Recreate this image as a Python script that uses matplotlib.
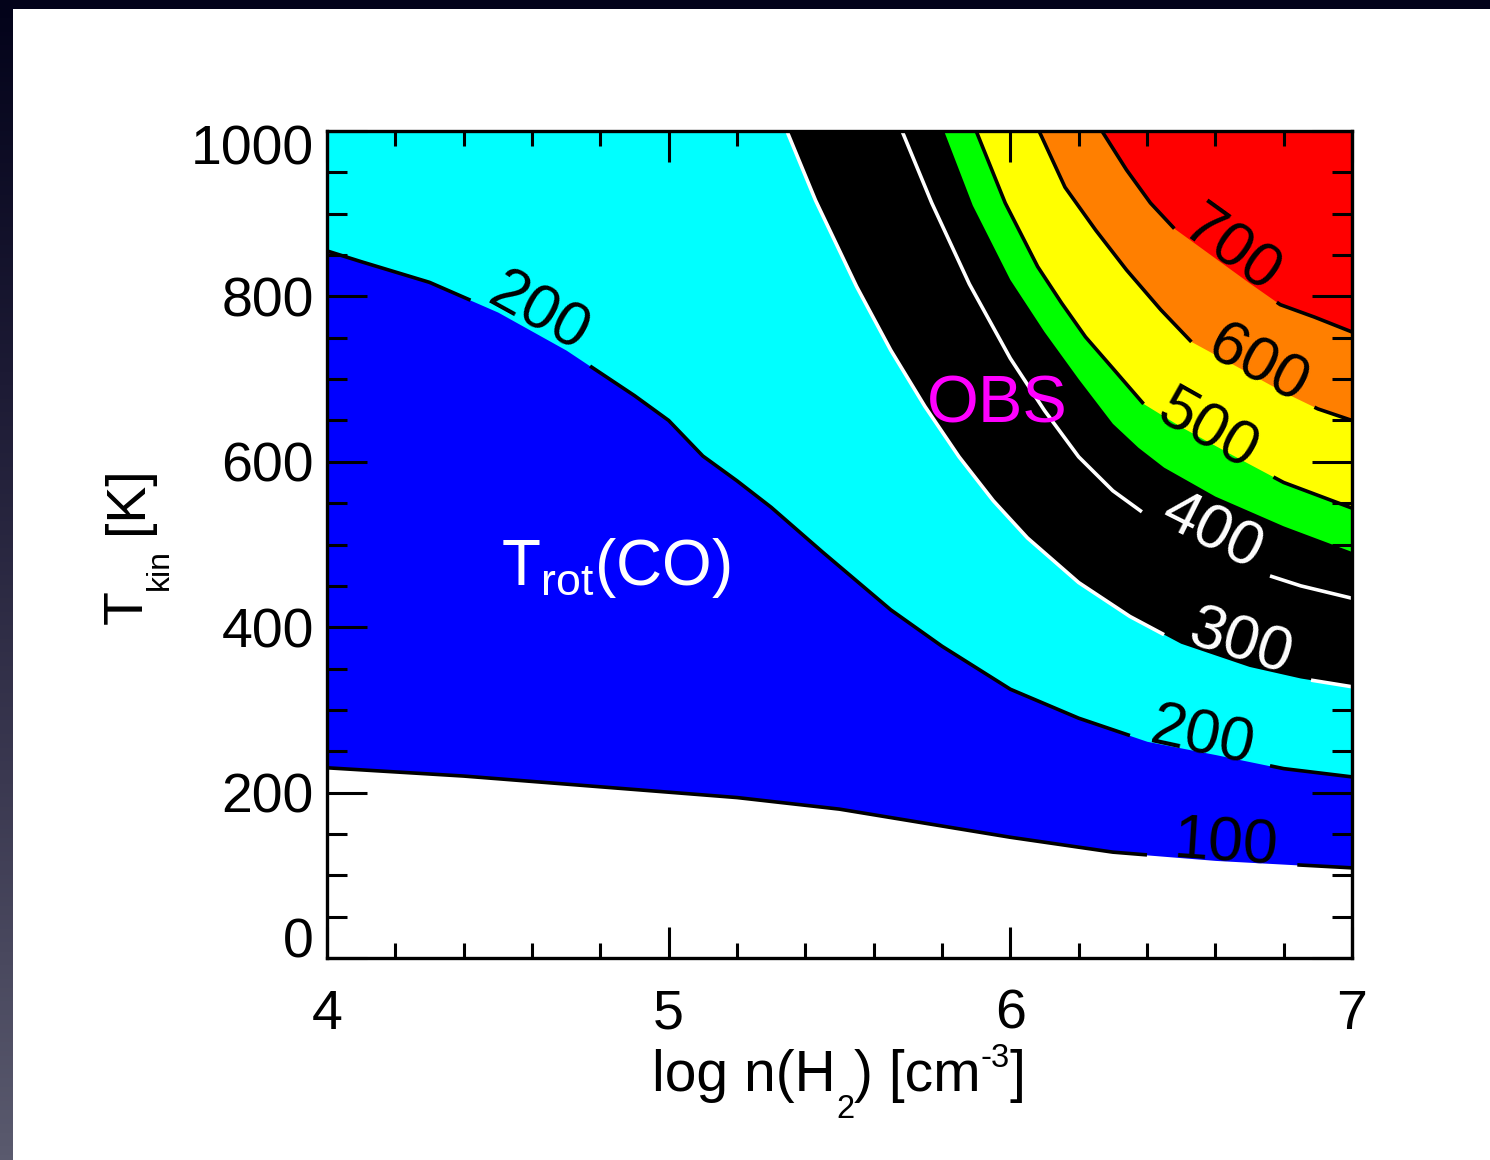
import numpy as np
import matplotlib
matplotlib.use("Agg")
import matplotlib.pyplot as plt
from matplotlib.ticker import MultipleLocator
from matplotlib.colors import LinearSegmentedColormap
from matplotlib.patches import Rectangle
from matplotlib.transforms import IdentityTransform

plt.rcParams['font.family'] = ['Liberation Sans', 'DejaVu Sans']
plt.rcParams['mathtext.fontset'] = 'custom'
plt.rcParams['mathtext.rm'] = 'Liberation Sans'
plt.rcParams['mathtext.it'] = 'Liberation Sans:italic'
plt.rcParams['mathtext.sf'] = 'Liberation Sans'

# ---------------- data: T_rot(CO) contours in (log n(H2), T_kin) ----------------
logn_100 = [4.0, 4.4, 4.8, 5.2, 5.5, 5.75, 6.0, 6.3, 6.6, 7.0]
tkin_100 = [230, 220, 207, 194, 180, 163, 146, 128, 118, 109]

logn_200 = [4.0, 4.1, 4.3, 4.5, 4.7, 4.9, 5.0, 5.1, 5.2, 5.3, 5.45, 5.65, 5.8,
            6.0, 6.2, 6.4, 6.6, 6.8, 7.0]
tkin_200 = [855, 842, 817, 781, 735, 680, 650, 607, 577, 545, 491, 421, 377,
            325, 290, 262, 246, 229, 219]

logn_300 = [5.346, 5.43, 5.55, 5.65, 5.75, 5.85, 5.95, 6.05, 6.2, 6.35, 6.5, 6.7, 6.85, 7.0]
tkin_300 = [1000, 916, 812, 735, 667, 606, 553, 508, 454, 413, 380, 352, 338, 328]

logn_400 = [5.683, 5.77, 5.88, 6.0, 6.1, 6.2, 6.3, 6.4, 6.55, 6.7, 6.85, 7.0]
tkin_400 = [1000, 913, 815, 725, 662, 606, 565, 535, 496, 470, 450, 435]

logn_obs = [5.806, 5.89, 6.0, 6.1, 6.2, 6.3, 6.375, 6.45, 6.6, 6.8, 7.0]
tkin_obs = [1000, 910, 820, 757, 700, 646, 617, 593, 558, 522, 491]

logn_500 = [5.9, 5.985, 6.08, 6.15, 6.22, 6.3, 6.39, 6.5, 6.65, 6.8, 7.0]
tkin_500 = [1000, 913, 836, 792, 751, 713, 670, 642, 608, 575, 544]

logn_600 = [6.084, 6.16, 6.25, 6.34, 6.44, 6.53, 6.65, 6.8, 6.9, 7.0]
tkin_600 = [1000, 932, 880, 832, 784, 745, 718, 684, 664, 650]

logn_700 = [6.268, 6.34, 6.41, 6.48, 6.6, 6.7, 6.79, 6.89, 7.0]
tkin_700 = [1000, 953, 913, 882, 846, 816, 790, 775, 757]

x_ticks = [4, 5, 6, 7]
x_ticklabels = ['4', '5', '6', '7']
y_ticks = [0, 200, 400, 600, 800, 1000]
y_ticklabels = ['0', '200', '400', '600', '800', '1000']

# ---------------- figure ----------------
W, H = 1490, 1160
fig = plt.figure(figsize=(W / 100, H / 100), dpi=100, facecolor='white')

# dark slide border (top band + left gradient strip)
bg = fig.add_axes([0, 0, 1, 1], zorder=-10)
grad = np.linspace(0, 1, 256)[:, None]
cmap = LinearSegmentedColormap.from_list('edge', ['#03031a', '#1d1b35', '#3a3850', '#5a5a6e'])
bg.imshow(grad, extent=[0, 13, H, 0], cmap=cmap, aspect='auto')
bg.add_patch(Rectangle((0, 0), W, 9, color='#03031a', lw=0))
bg.set_xlim(0, W)
bg.set_ylim(H, 0)
bg.axis('off')

X0, X1, Y0, Y1 = 4.0, 7.0, 0.0, 1000.0
ax = fig.add_axes([327 / W, 1 - 958 / H, 1025 / W, 827 / H])
ax.set_xlim(X0, X1)
ax.set_ylim(Y0, Y1)
ax.set_facecolor('#ff0000')
ax.set_axisbelow(False)


def fill_below(x, y, color):
    xs = np.r_[X0, x, X1, X0]
    ys = np.r_[Y1, y, Y0, Y0]
    ax.fill(xs, ys, color=color, lw=0, zorder=1)


fill_below(logn_700, tkin_700, '#ff7f00')
fill_below(logn_600, tkin_600, '#ffff00')
fill_below(logn_500, tkin_500, '#00ff00')
fill_below(logn_obs, tkin_obs, '#000000')
fill_below(logn_300, tkin_300, '#00ffff')
ax.fill_between(logn_200, 0, tkin_200, color='#0000ff', lw=0, zorder=1)
ax.fill_between(logn_100, 0, tkin_100, color='#ffffff', lw=0, zorder=1)

LW = 2.6


def seg(x, y, a, b):
    m = (x > a) & (x < b)
    xs = np.r_[a, x[m], b]
    ys = np.r_[np.interp(a, x, y), y[m], np.interp(b, x, y)]
    return xs, ys


def draw_line(x, y, gaps, color):
    x = np.asarray(x, float)
    y = np.asarray(y, float)
    start = x[0]
    for g0, g1 in gaps:
        xs, ys = seg(x, y, start, g0)
        ax.plot(xs, ys, color=color, lw=LW, zorder=2, solid_capstyle='butt')
        start = g1
    xs, ys = seg(x, y, start, x[-1])
    ax.plot(xs, ys, color=color, lw=LW, zorder=2, solid_capstyle='butt')


lines = [
    (logn_100, tkin_100, 'black', [(6.40, 6.84)]),
    (logn_200, tkin_200, 'black', [(4.42, 4.77), (6.35, 6.76)]),
    (logn_300, tkin_300, 'white', [(6.45, 6.88)]),
    (logn_400, tkin_400, 'white', [(6.385, 6.76)]),
    (logn_500, tkin_500, 'black', [(6.39, 6.77)]),
    (logn_600, tkin_600, 'black', [(6.53, 6.89)]),
    (logn_700, tkin_700, 'black', [(6.48, 6.78)]),
]
for x, y, c, gaps in lines:
    draw_line(x, y, gaps, c)

# contour labels: (text, curve x, curve y, gap, label centre, colour)
label_specs = [
    ('100', logn_100, tkin_100, (6.40, 6.84), (6.631, 137), 'black'),
    ('200', logn_200, tkin_200, (4.42, 4.77), (4.620, 780), 'black'),
    ('200', logn_200, tkin_200, (6.35, 6.76), (6.564, 267), 'black'),
    ('300', logn_300, tkin_300, (6.45, 6.88), (6.675, 381), 'white'),
    ('400', logn_400, tkin_400, (6.385, 6.76), (6.590, 515), 'white'),
    ('500', logn_500, tkin_500, (6.39, 6.77), (6.578, 638), 'black'),
    ('600', logn_600, tkin_600, (6.53, 6.89), (6.725, 716), 'black'),
    ('700', logn_700, tkin_700, (6.48, 6.78), (6.646, 855), 'black'),
]
for txt, x, y, (g0, g1), (cx, cy), c in label_specs:
    p0 = ax.transData.transform((g0, np.interp(g0, x, y)))
    p1 = ax.transData.transform((g1, np.interp(g1, x, y)))
    ang = np.degrees(np.arctan2(p1[1] - p0[1], p1[0] - p0[0]))
    ax.text(cx, cy, txt, rotation=ang, rotation_mode='anchor', ha='center',
            va='center', fontsize=45, color=c, zorder=4)

ax.text(5.961, 648, 'OBS', color='#ff00ff', fontsize=48, ha='center',
        va='baseline', zorder=5)
ax.text(4.846, 451, r'T$_{\rm rot}$(CO)', color='white', fontsize=46,
        ha='center', va='baseline', zorder=5)

# ---------------- axes styling ----------------
for sp in ax.spines.values():
    sp.set_linewidth(2.4)
    sp.set_zorder(6)

ax.xaxis.set_major_locator(MultipleLocator(1))
ax.xaxis.set_minor_locator(MultipleLocator(0.2))
ax.yaxis.set_major_locator(MultipleLocator(200))
ax.yaxis.set_minor_locator(MultipleLocator(50))
ax.tick_params(which='both', direction='in', top=True, right=True, width=2.2,
               color='black', zorder=6)
ax.tick_params(axis='x', which='major', length=22, pad=22, labelsize=40)
ax.tick_params(axis='x', which='minor', length=11)
ax.tick_params(axis='y', which='major', length=29, pad=9.5, labelsize=40)
ax.tick_params(axis='y', which='minor', length=14.5)
ax.set_xticks(x_ticks)
ax.set_xticklabels(x_ticklabels)
ax.set_yticks(y_ticks)
ax.set_yticklabels([''] + y_ticklabels[1:-1] + [''])

ax.annotate(y_ticklabels[0], xy=(0, y_ticks[0]), xycoords=('axes fraction', 'data'),
            xytext=(-9.5, 0), textcoords='offset points', ha='right', va='baseline',
            fontsize=40, annotation_clip=False)
ax.annotate(y_ticklabels[-1], xy=(0, y_ticks[-1]), xycoords=('axes fraction', 'data'),
            xytext=(-9.5, 5), textcoords='offset points', ha='right', va='top',
            fontsize=40, annotation_clip=False)

# ---------------- axis titles built from pieces (IDL-style sub/superscripts) ----------------
renderer = fig.canvas.get_renderer()
MAIN, SUB = 41, 23.5

# x title: pieces (text, size, baseline shift in px)
xt_pieces = [('log n(H', MAIN, 0), ('2', SUB, -27), (') [cm', MAIN, 0),
             ('-3', SUB, 24), (']', MAIN, 0)]
objs, widths = [], []
for txt, fs, dy in xt_pieces:
    t = fig.text(0, 0, txt, fontsize=fs, ha='left', va='baseline',
                 transform=IdentityTransform())
    widths.append(t.get_window_extent(renderer).width)
    objs.append((t, dy))
total = sum(widths)
xpos = 839 - total / 2
base = H - 1091
for (t, dy), w in zip(objs, widths):
    t.set_position((xpos, base + dy))
    xpos += w

# y title (rotated): pieces (text, size, baseline shift px, gap before px)
yt_pieces = [('T', 40, 0, 0), ('kin', 23, 26, 0), ('[K]', 40, 0, 15)]
ypos = H - 624
xbase = 142
for txt, fs, dx, gap in yt_pieces:
    ypos += gap
    t = fig.text(xbase + dx, ypos, txt, fontsize=fs, rotation=90,
                 rotation_mode='anchor', ha='left', va='baseline',
                 transform=IdentityTransform())
    ypos += t.get_window_extent(renderer).height

fig.savefig('out.png', dpi=100, facecolor='white')
